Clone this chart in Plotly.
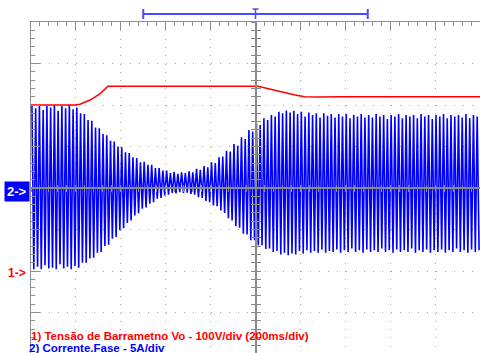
import plotly.graph_objects as go

# Channel 1: bus voltage Vo (V) versus time (ms); 100 V/div, ground marker at -2 div
red_time_ms = [0, 196, 218, 263, 307, 343, 1011, 1042, 1087, 1131, 1176, 1220, 1287, 1376, 2000]
red_volts = [400, 400, 402, 412, 427, 445, 445, 441, 435, 429, 424, 420, 419, 420, 420]

# Channel 2: phase current, 5 A/div. Peak and trough (A) of every 60 Hz cycle
# across the 2 s screen (10 div x 200 ms/div = 120 cycles)
blue_peak = [
    10.0, 9.6, 10.0, 9.4, 9.9, 9.7, 10.0, 9.3, 9.9, 9.6,
    10.0, 9.5, 9.7, 9.0, 8.9, 8.2, 8.1, 7.3, 7.2, 6.5,
    6.35, 5.7, 5.6, 5.0, 4.9, 4.3, 4.2, 3.7, 3.6, 3.1,
    3.15, 2.8, 2.8, 2.4, 2.4, 2.1, 2.1, 1.8, 1.95, 1.7,
    1.9, 1.8, 2.0, 1.9, 2.3, 2.2, 2.65, 2.5, 3.1, 3.0,
    3.7, 3.8, 4.5, 4.4, 5.3, 5.1, 6.1, 5.9, 7.0, 6.8,
    7.8, 7.6, 8.4, 8.2, 8.8, 8.6, 9.2, 9.0, 9.35, 9.1,
    9.3, 8.9, 9.2, 8.6, 9.1, 8.8, 9.0, 8.5, 9.0, 8.7,
    8.9, 8.5, 8.9, 8.6, 8.9, 8.4, 8.8, 8.6, 8.9, 8.5,
    8.8, 8.5, 8.9, 8.6, 8.8, 8.3, 8.8, 8.6, 8.9, 8.4,
    8.8, 8.6, 8.8, 8.4, 8.9, 8.6, 8.8, 8.3, 8.8, 8.6,
    8.9, 8.4, 8.8, 8.6, 8.8, 8.5, 8.9, 8.4, 8.8, 8.6,
]
blue_trough = [
    -9.8, -9.5, -9.8, -9.3, -9.7, -9.6, -9.8, -9.2, -9.7, -9.5,
    -9.8, -9.4, -9.6, -9.0, -9.0, -8.5, -8.4, -7.8, -7.7, -7.0,
    -6.85, -6.1, -5.9, -5.1, -4.85, -4.2, -3.9, -3.3, -3.05, -2.5,
    -2.35, -1.9, -1.7, -1.3, -1.2, -0.9, -0.8, -0.6, -0.65, -0.5,
    -0.6, -0.55, -0.7, -0.8, -1.1, -1.2, -1.55, -1.7, -2.1, -2.2,
    -2.7, -3.0, -3.65, -3.9, -4.6, -4.8, -5.5, -5.6, -6.3, -6.3,
    -6.9, -6.9, -7.35, -7.3, -7.7, -7.6, -8.0, -7.8, -8.1, -7.9,
    -8.0, -7.6, -7.9, -7.5, -7.8, -7.6, -7.8, -7.4, -7.8, -7.6,
    -7.7, -7.4, -7.8, -7.5, -7.7, -7.3, -7.7, -7.5, -7.8, -7.4,
    -7.7, -7.5, -7.7, -7.3, -7.7, -7.5, -7.8, -7.4, -7.7, -7.5,
    -7.7, -7.3, -7.8, -7.5, -7.7, -7.4, -7.8, -7.5, -7.7, -7.4,
    -7.8, -7.5, -7.7, -7.3, -7.7, -7.5, -7.8, -7.4, -7.7, -7.5,
]

screen_ms = 2000
ch1_volts_per_div = 100
ch1_ground_div = -2
ch2_amps_per_div = 5
memory_window_ms = [500, 1500]
trigger_ms = 1000

label_ch1 = "1) Tensão de Barrametno Vo - 100V/div (200ms/div)"
label_ch2 = "2) Corrente.Fase - 5A/div"

# ---------------- build ----------------
period = screen_ms / len(blue_peak)
blue_x, blue_y = [], []
for i, (p, q) in enumerate(zip(blue_peak, blue_trough)):
    blue_x += [(i + 0.25) * period, (i + 0.75) * period]
    blue_y += [p / ch2_amps_per_div, q / ch2_amps_per_div]

red_y = [v / ch1_volts_per_div + ch1_ground_div for v in red_volts]

W, H = 480, 353
ML, MT = 31, 22
plot_h = H - MT
div_px = 41.5
y_top = 4.0
y_bot = y_top - plot_h / div_px
pos_zero = (0 - y_bot) / (y_top - y_bot)

AX = "#8e8e8e"
CEN = "#8a8a8a"
DOT = "#a6a6a6"
BLUE = "#0000ff"
RED = "#ff0000"
FONT = "Liberation Sans, Arial, sans-serif"

fig = go.Figure()
fig.add_trace(go.Scatter(x=blue_x, y=blue_y, mode="lines",
                         line=dict(color=BLUE, width=1.6), hoverinfo="skip"))
fig.add_trace(go.Scatter(x=red_time_ms, y=red_y, mode="lines",
                         line=dict(color=RED, width=1.5), hoverinfo="skip"))
# empty traces to bind the centre cross-hair axes
for xa, ya in [("x2", "y"), ("x3", "y"), ("x", "y2"), ("x", "y3")]:
    fig.add_trace(go.Scatter(x=[], y=[], xaxis=xa, yaxis=ya, hoverinfo="skip"))

common = dict(showticklabels=False, zeroline=False, fixedrange=True)
xr = [0, screen_ms]
yr = [y_bot, y_top]

fig.update_layout(
    width=W, height=H,
    margin=dict(l=ML, r=0, t=MT, b=0, pad=0, autoexpand=False),
    paper_bgcolor="white", plot_bgcolor="white", showlegend=False,
    xaxis=dict(range=xr, side="top", showline=True, linecolor=AX, linewidth=1,
               ticks="inside", ticklen=8, tickwidth=1, tickcolor=AX, tick0=0, dtick=200,
               minor=dict(ticks="inside", ticklen=4, tick0=0, dtick=40, tickcolor=AX, showgrid=False),
               showgrid=True, gridcolor=DOT, gridwidth=1, griddash="1px,7.3px", **common),
    yaxis=dict(range=yr, side="left", showline=True, linecolor=AX, linewidth=1,
               ticks="inside", ticklen=9, tickwidth=1, tickcolor=AX, tick0=0, dtick=1,
               minor=dict(ticks="inside", ticklen=4, tick0=0, dtick=0.2, tickcolor=AX, showgrid=False),
               showgrid=True, gridcolor=DOT, gridwidth=1, griddash="1px,8px", **common),
    xaxis2=dict(range=xr, overlaying="x", anchor="free", position=pos_zero, side="bottom",
                showline=True, linecolor=CEN, linewidth=1.5, ticks="outside", ticklen=3,
                tickcolor=CEN, tick0=0, dtick=200,
                minor=dict(ticks="outside", ticklen=3, tick0=0, dtick=40, tickcolor=CEN, showgrid=False),
                showgrid=False, **common),
    xaxis3=dict(range=xr, overlaying="x", anchor="free", position=pos_zero, side="bottom",
                showline=False, ticks="inside", ticklen=3,
                tickcolor=CEN, tick0=0, dtick=200,
                minor=dict(ticks="inside", ticklen=3, tick0=0, dtick=40, tickcolor=CEN, showgrid=False),
                showgrid=False, **common),
    yaxis2=dict(range=yr, overlaying="y", anchor="free", position=0.5, side="left",
                showline=True, linecolor=CEN, linewidth=2, ticks="outside", ticklen=4,
                tickcolor=CEN, tick0=0, dtick=1,
                minor=dict(ticks="outside", ticklen=4, tick0=0, dtick=0.2, tickcolor=CEN, showgrid=False),
                showgrid=False, **common),
    yaxis3=dict(range=yr, overlaying="y", anchor="free", position=0.5, side="left",
                showline=False, ticks="inside", ticklen=4,
                tickcolor=CEN, tick0=0, dtick=1,
                minor=dict(ticks="inside", ticklen=4, tick0=0, dtick=0.2, tickcolor=CEN, showgrid=False),
                showgrid=False, **common),
)

# memory / trigger bracket above the screen
def py(pix):
    return (H - pix) / plot_h

BR = "#4a4aff"
y_mid, y_lo, y_hi = py(14), py(19), py(9)
shapes = [
    dict(type="line", xref="x", yref="paper", x0=memory_window_ms[0], x1=memory_window_ms[1],
         y0=y_mid, y1=y_mid, line=dict(color=BR, width=2)),
    dict(type="line", xref="x", yref="paper", x0=memory_window_ms[0], x1=memory_window_ms[0],
         y0=y_lo, y1=y_hi, line=dict(color=BR, width=2)),
    dict(type="line", xref="x", yref="paper", x0=memory_window_ms[1], x1=memory_window_ms[1],
         y0=y_lo, y1=y_hi, line=dict(color=BR, width=2)),
    dict(type="line", xref="x", yref="paper", x0=trigger_ms, x1=trigger_ms,
         y0=y_lo, y1=y_hi, line=dict(color=BR, width=1.5)),
    dict(type="line", xref="x", yref="paper", x0=trigger_ms - 13, x1=trigger_ms + 13,
         y0=y_hi, y1=y_hi, line=dict(color=BR, width=1.5)),
]
fig.update_layout(shapes=shapes)

ann = [
    dict(text="2->", xref="paper", x=0, xanchor="right", xshift=-1,
         yref="y", y=0, yanchor="middle", yshift=-3, showarrow=False,
         bgcolor=BLUE, borderpad=2,
         font=dict(family=FONT, size=13, color="white", weight="bold")),
    dict(text="1->", xref="paper", x=0, xanchor="right", xshift=-3,
         yref="y", y=ch1_ground_div, yanchor="middle", yshift=-2, showarrow=False,
         font=dict(family=FONT, size=12, color=RED, weight="bold")),
    dict(text=label_ch1, xref="paper", x=0, xanchor="left", xshift=-2,
         yref="paper", y=py(335.5), yanchor="middle", showarrow=False,
         font=dict(family=FONT, size=11.5, color=RED, weight="bold")),
    dict(text=label_ch2, xref="paper", x=0, xanchor="left", xshift=-3,
         yref="paper", y=py(347.5), yanchor="middle", showarrow=False, borderpad=0,
         font=dict(family=FONT, size=11.5, color=BLUE, weight="bold")),
]
fig.update_layout(annotations=ann)

fig.write_html("out.html", config={"displayModeBar": False},
               post_script="document.body.style.margin='0px';document.body.style.padding='0px';")
